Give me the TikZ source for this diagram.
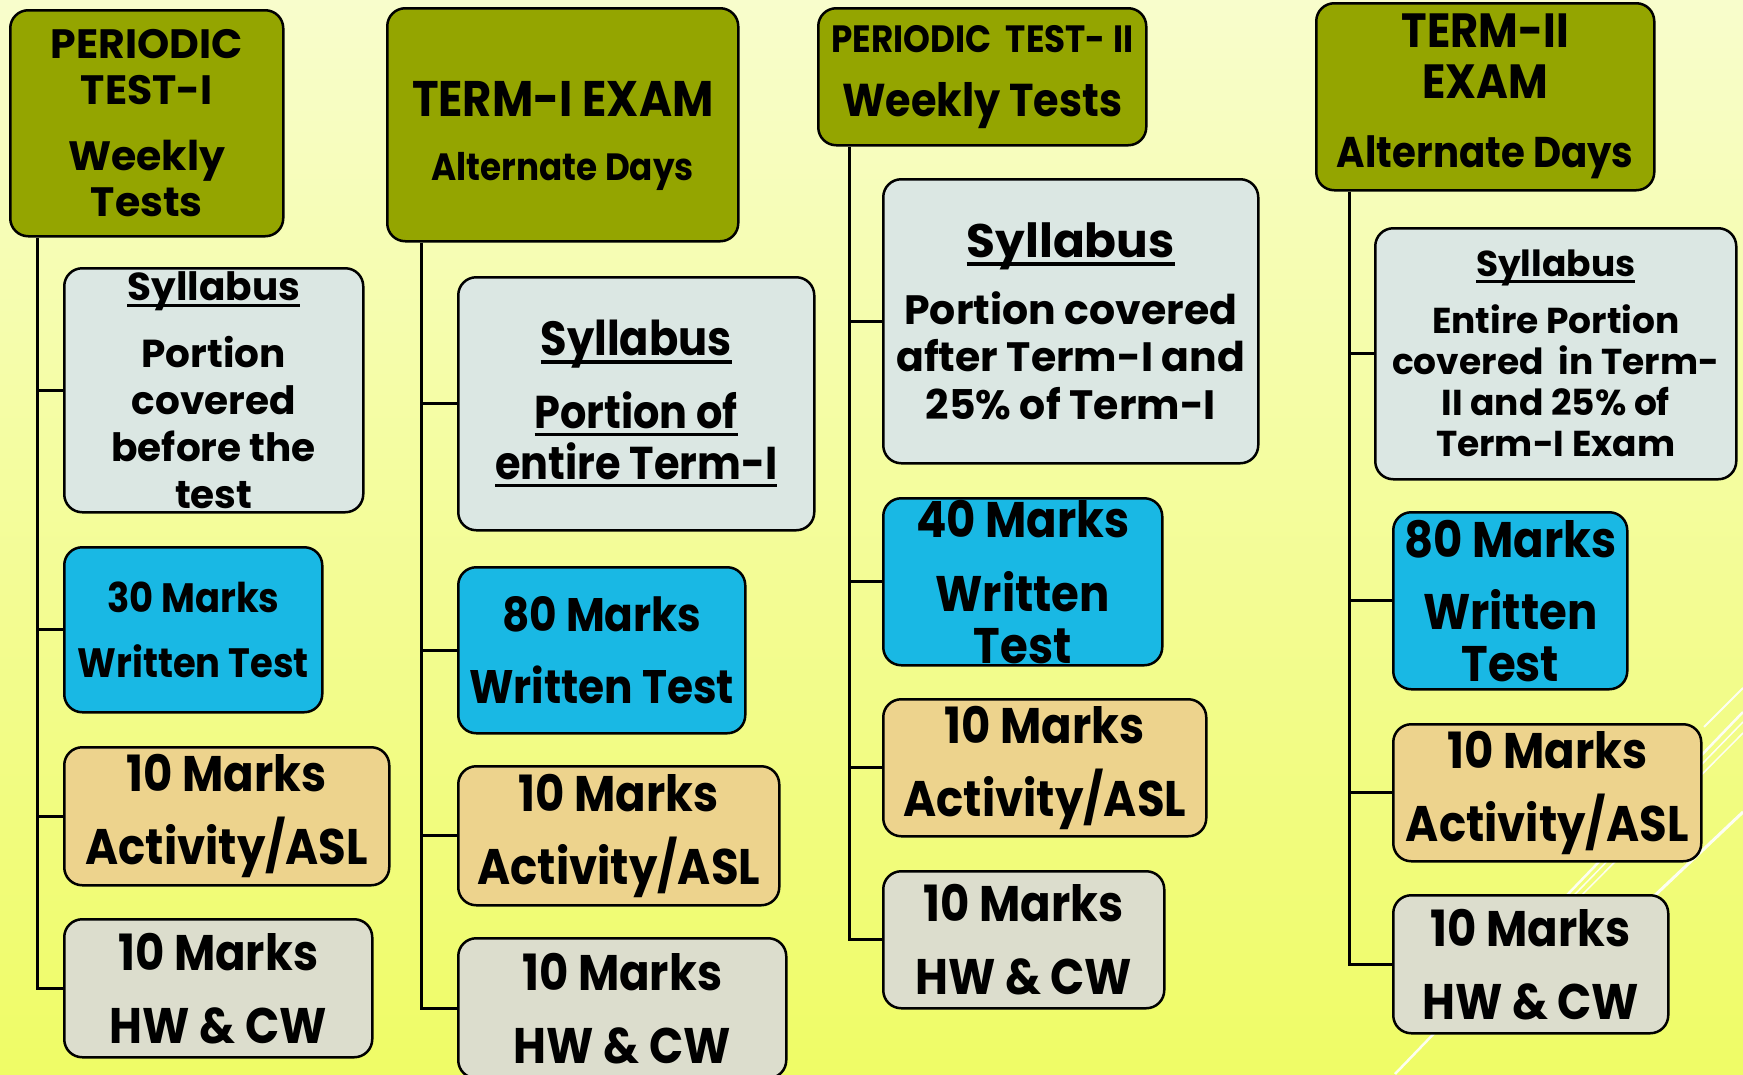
\documentclass[tikz,border=0pt]{standalone}
\usepackage{fontspec}
\setmainfont{Poppins}[FakeStretch=0.9]
\newfontfamily\fullwidth{Poppins}
\usetikzlibrary{positioning}

\definecolor{bgtop}{HTML}{F8FDCC}
\definecolor{bgmid}{HTML}{F2FC7C}
\definecolor{bgbot}{HTML}{EFFC66}
\definecolor{olivebox}{HTML}{94A500}
\definecolor{sylbox}{HTML}{DBE7E3}
\definecolor{bluebox}{HTML}{19B8E4}
\definecolor{tanbox}{HTML}{EDD38D}
\definecolor{greybox}{HTML}{DCDDCD}

\newcommand\setfs[2]{\fontsize{#1}{#2}\selectfont\bfseries}
\newcommand\undl[1]{\leavevmode\setbox0\hbox{#1}\rlap{\rule[-0.17em]{\wd0}{0.08em}}\box0}

\tikzset{
  box/.style={draw=black, line width=2.5pt, rounded corners=18pt, anchor=north west,
              inner sep=0pt, align=center},
  dims/.style 2 args={minimum width=#1, minimum height=#2},
  exam/.style={box, fill=olivebox},
  syllabus/.style={box, fill=sylbox},
  written/.style={box, fill=bluebox},
  activity/.style={box, fill=tanbox},
  homework/.style={box, fill=greybox},
  link/.style={draw=black, line width=3pt},
  streak/.style={draw=white, opacity=0.9}
}

\begin{document}
\begin{tikzpicture}[x=1pt, y=-1pt]
\useasboundingbox (0,0) rectangle (1743,1074);
\clip (0,0) rectangle (1743,1074);
% background
\shade[top color=bgtop, middle color=bgmid, bottom color=bgbot] (0,0) rectangle (1743,1074);
\draw[streak, line width=2.5pt] (1395,1074) -- (1743,712);
\draw[streak, line width=1.5pt] (1540,930) -- (1743,722);
\draw[streak, line width=1.5pt] (1565,912) -- (1743,733);
\draw[streak, line width=3pt] (1650,900) -- (1743,812);
\draw[streak, line width=2pt] (1704,727) -- (1743,688);

% periodic test I
\node[exam, dims={273pt}{226pt}, font=\setfs{41}{46}\fullwidth] (h1) at (9,9)
  {PERIODIC\\TEST-I\\[20pt]Weekly\\Tests};
\node[syllabus, dims={299pt}{244pt}, font=\setfs{39}{47}\fullwidth] (s1) at (63,267)
  {\undl{Syllabus}\\[20pt]Portion\\covered\\before the\\test};
\node[written, dims={258pt}{165pt}, font=\setfs{41}{45}] (w1) at (63,546)
  {30 Marks\\[20pt]Written Test};
\node[activity, dims={325pt}{138pt}, font=\setfs{50}{73}] (a1) at (63,746)
  {10 Marks\\Activity/ASL};
\node[homework, dims={308pt}{138pt}, font=\setfs{50}{73}] (b1) at (63,918)
  {10 Marks\\HW \& CW};

% term I exam
\node[exam, dims={351pt}{233pt}, font=\setfs{50}{52}] (h2) at (386,7)
  {\rule{0pt}{57pt}TERM-I EXAM\\[12pt]{\setfs{38}{40}Alternate Days}};
\node[syllabus, dims={356pt}{253pt}, font=\setfs{46}{51}] (s2) at (457,276)
  {{\setfs{48}{52}\undl{Syllabus}}\\[22pt]\undl{Portion of}\\\undl{entire Term-I}};
\node[written, dims={287pt}{166pt}, font=\setfs{47}{52}] (w2) at (457,566)
  {80 Marks\\[20pt]Written Test};
\node[activity, dims={321pt}{139pt}, font=\setfs{50}{73}] (a2) at (457,765)
  {10 Marks\\Activity/ASL};
\node[homework, dims={328pt}{140pt}, font=\setfs{50}{73}] (b2) at (457,937)
  {10 Marks\\HW \& CW};

% periodic test II
\node[exam, dims={328pt}{137pt}, font=\setfs{38}{46}] (h3) at (817,7)
  {PERIODIC~~TEST- II\\[18pt]{\setfs{46}{50}Weekly Tests}};
\node[syllabus, dims={375pt}{284pt}, font=\setfs{41}{47.5}\fullwidth] (s3) at (882,178)
  {{\setfs{47}{50}\undl{Syllabus}}\\[19pt]Portion covered\\after Term-I and\\25\% of Term-I};
\node[written, dims={279pt}{167pt}, font=\setfs{50}{52}] (w3) at (882,497)
  {40 Marks\\[22pt]Written\\Test};
\node[activity, dims={323pt}{137pt}, font=\setfs{50}{73}] (a3) at (882,698)
  {10 Marks\\Activity/ASL};
\node[homework, dims={281pt}{137pt}, font=\setfs{50}{73}] (b3) at (882,870)
  {10 Marks\\HW \& CW};

% term II exam
\node[exam, dims={338pt}{187pt}, font=\setfs{48}{51}] (h4) at (1315,2)
  {TERM-II\\EXAM\\[18pt]{\setfs{43}{45}Alternate Days}};
\node[syllabus, dims={361pt}{251pt}, font=\setfs{36}{41}\fullwidth] (s4) at (1374,227)
  {\undl{Syllabus}\\[16pt]Entire Portion\\covered~~in Term-\\II and 25\% of\\Term-I Exam};
\node[written, dims={234pt}{177pt}, font=\setfs{50}{52}] (w4) at (1392,511)
  {80 Marks\\[20pt]Written\\Test};
\node[activity, dims={308pt}{137pt}, font=\setfs{50}{73}] (a4) at (1392,723)
  {10 Marks\\Activity/ASL};
\node[homework, dims={275pt}{138pt}, font=\setfs{50}{73}] (b4) at (1392,894)
  {10 Marks\\HW \& CW};

% trunks
\coordinate (t1) at ([xshift=28pt]h1.south west);
\coordinate (t2) at ([xshift=35pt]h2.south west);
\coordinate (t3) at ([xshift=32pt]h3.south west);
\coordinate (t4) at ([xshift=34pt]h4.south west);
\path[link]
  (t1) |- (s1.west) (t1) |- (w1.west) (t1) |- (a1.west) (t1) |- (b1.west)
  (t2) |- (s2.west) (t2) |- (w2.west) (t2) |- (a2.west) (t2) |- (b2.west)
  (t3) |- (s3.west) (t3) |- (w3.west) (t3) |- (a3.west) (t3) |- (b3.west)
  (t4) |- (s4.west) (t4) |- (w4.west) (t4) |- (a4.west) (t4) |- (b4.west);
\end{tikzpicture}
\end{document}
